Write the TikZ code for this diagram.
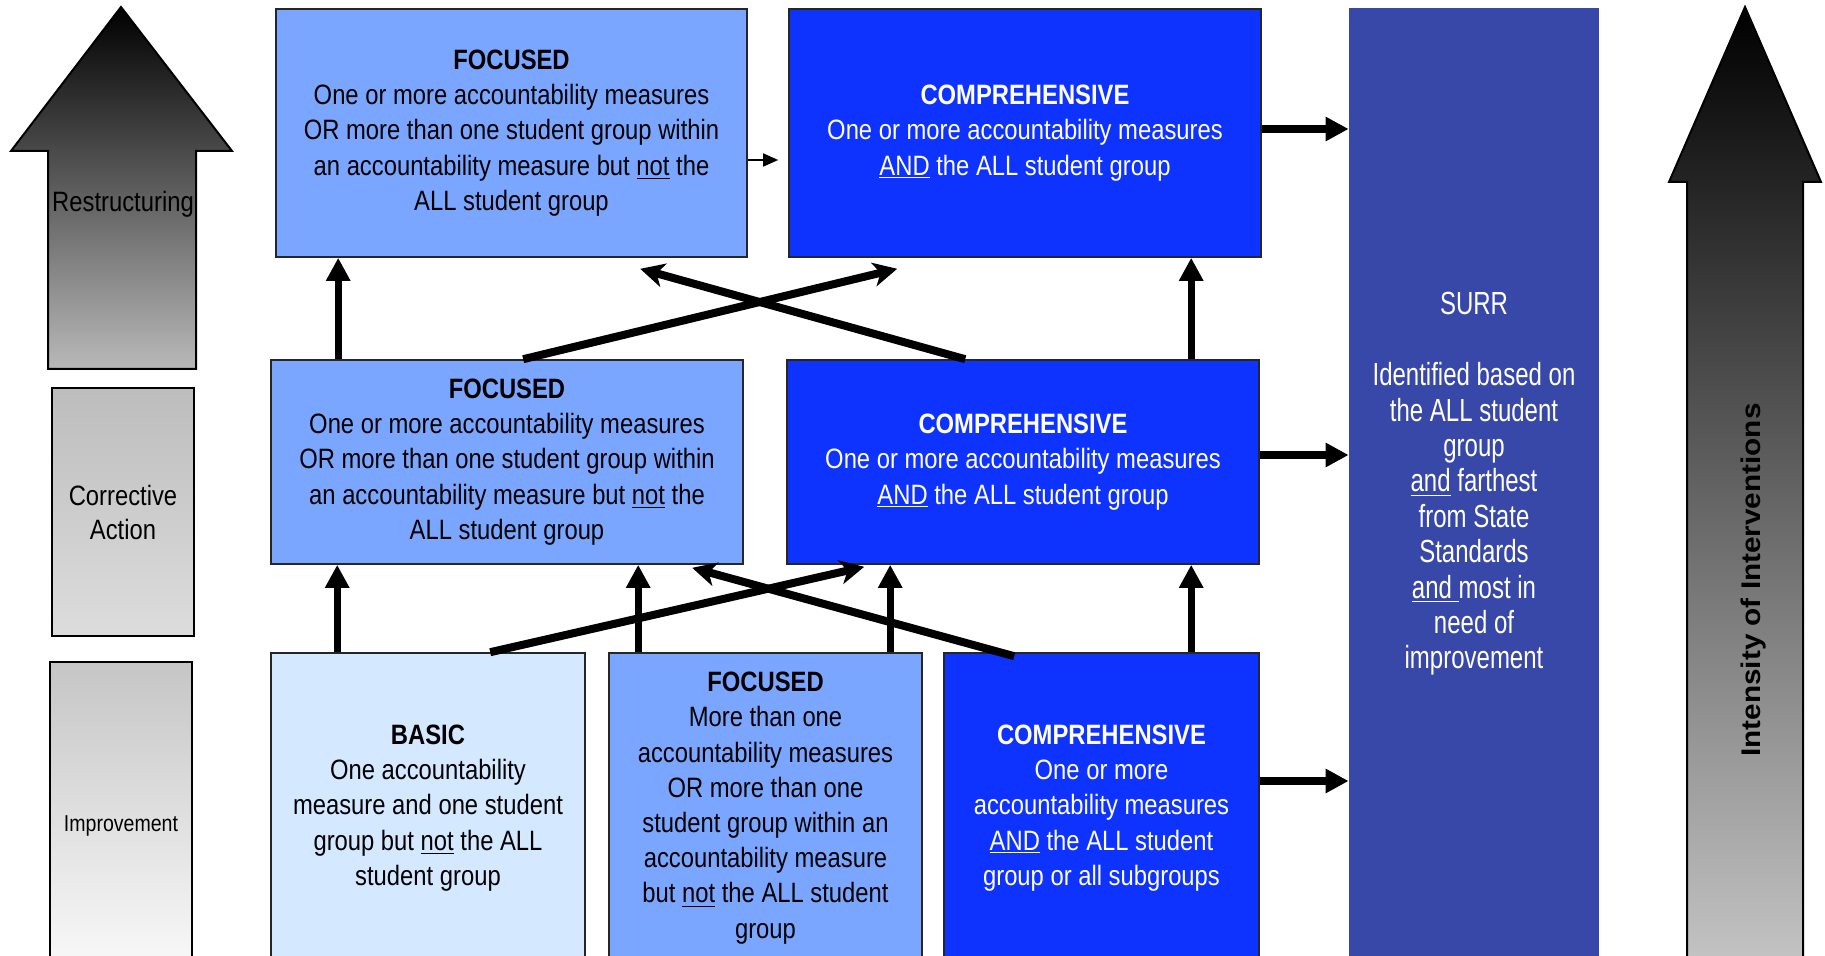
\documentclass[tikz,border=0pt]{standalone}
\usepackage{fontspec}
\usepackage{tikz}
\usepackage{xcolor}
\usetikzlibrary{arrows.meta}

\newfontfamily\boxfont[FakeStretch=0.85]{Liberation Sans}
\newfontfamily\surrfont[FakeStretch=0.75]{Liberation Sans}
\newfontfamily\longfont[FakeStretch=1.1]{Liberation Sans}

\definecolor{basicblue}{HTML}{D4E8FF}
\definecolor{focblue}{HTML}{7AA6FF}
\definecolor{compblue}{HTML}{0F33FF}
\definecolor{surrblue}{HTML}{3848A8}

\begin{document}
\begin{tikzpicture}[x=0.5pt,y=-0.5pt]
        \tikzstyle{level}=[draw=black!85,line width=0.8pt,inner sep=0pt,align=center,font=\boxfont\fontsize{14}{17.6}\selectfont]
        \tikzstyle{side}=[draw=black,line width=1pt,inner sep=0pt,align=center,font=\boxfont\fontsize{14}{17}\selectfont]
        \tikzstyle{bigarrow}=[draw,line width=3.6pt,-{Triangle[length=11.5pt,width=11.5pt]}]
        \tikzstyle{crossarrow}=[draw,line width=4pt,-{Stealth[length=12pt,width=12pt,inset=3.5pt]}]
        \tikzstyle{thinarrow}=[draw,line width=0.8pt,-{Triangle[length=7.5pt,width=6.5pt]}]
        \clip (0,0) rectangle (1825,956);
       % stages on the left
       \begin{scope}
         \shade[top color=black,bottom color=gray!55,draw=black,line width=1pt]
           (121,7) -- (232,151) -- (196,151) -- (196,369) -- (48,369) -- (48,151) -- (11,151) -- cycle;
         \node [font=\boxfont\fontsize{14}{17}\selectfont] (restr) at (123,204) {Restructuring};
         \node [side,top color=gray!52,bottom color=gray!27,minimum width=71pt,minimum height=124pt] (corr) at (123,512) {Corrective\\Action};
         \node [side,top color=gray!45,bottom color=gray!2,minimum width=71pt,minimum height=164pt,font=\boxfont\fontsize{11.5}{14}\selectfont] (impr) at (121,826) {Improvement};
        \end{scope}
       % levels
       \begin{scope}
         \node [level,fill=focblue,minimum width=235.5pt,minimum height=124pt] (tf) at (511.5,133)
           {\textbf{FOCUSED}\\One or more accountability measures\\OR more than one student group within\\an accountability measure but \underline{not} the\\ALL student group};
         \node [level,fill=compblue,text=white,minimum width=236pt,minimum height=124pt] (tc) at (1025,133)
           {\textbf{COMPREHENSIVE}\\One or more accountability measures\\\underline{AND} the ALL student group};
         \node [level,fill=focblue,minimum width=236pt,minimum height=102pt] (mf) at (507,462)
           {\textbf{FOCUSED}\\One or more accountability measures\\OR more than one student group within\\an accountability measure but \underline{not} the\\ALL student group};
         \node [level,fill=compblue,text=white,minimum width=236pt,minimum height=102pt] (mc) at (1023,462)
           {\textbf{COMPREHENSIVE}\\One or more accountability measures\\\underline{AND} the ALL student group};
         \node [level,fill=basicblue,minimum width=157pt,minimum height=155pt] (bb) at (428,808)
           {\textbf{BASIC}\\One accountability\\measure and one student\\group but \underline{not} the ALL\\student group};
         \node [level,fill=focblue,minimum width=156.5pt,minimum height=155pt] (bf) at (765.5,808)
           {\textbf{FOCUSED}\\More than one\\accountability measures\\OR more than one\\student group within an\\accountability measure\\but \underline{not} the ALL student\\group};
         \node [level,fill=compblue,text=white,minimum width=157.5pt,minimum height=155pt] (bc) at (1101.5,808)
           {\textbf{COMPREHENSIVE}\\One or more\\accountability measures\\\underline{AND} the ALL student\\group or all subgroups};
         \node [fill=surrblue,text=white,inner sep=0pt,align=center,minimum width=125pt,minimum height=476pt,
           font=\surrfont\fontsize{16}{17.7}\selectfont] (surr) at (1474,484)
           {SURR\\[17.7pt]Identified based on\\the ALL student\\group\\\underline{and} farthest\\from State\\Standards\\\underline{and\ }most in\\need of\\improvement};
        \end{scope}
       % intensity arrow on the right
       \shade[top color=black,bottom color=gray!42,draw=black,line width=1pt]
         (1745,7) -- (1821,182) -- (1803,182) -- (1803,990) -- (1687,990) -- (1687,182) -- (1669,182) -- cycle;
       \node [rotate=90,font=\longfont\bfseries\fontsize{13.5}{16}\selectfont] (intens) at (1753,580) {Intensity of Interventions};
       % connectors
       \coordinate (v1) at ([xshift=34pt]mf.north west);
       \coordinate (v2) at ([xshift=202.5pt]mc.north west);
       \coordinate (v3) at ([xshift=33.5pt]bb.north west);
       \coordinate (v4) at ([xshift=15pt]bf.north west);
       \coordinate (v5) at ([xshift=141pt]bf.north west);
       \coordinate (v6) at ([xshift=124pt]bc.north west);
       \coordinate (h1) at ([yshift=2pt]tc.east);
       \coordinate (h2) at ([yshift=3.5pt]mc.east);
       \coordinate (h3) at ([yshift=13.5pt]bc.east);
       \coordinate (t1) at ([yshift=-13.5pt]tf.east);
       \draw[thinarrow,shorten >=5pt] (t1) -- (t1 -| tc.west);
       \draw[bigarrow] (v1) -- (v1 |- tf.south);
       \draw[bigarrow] (v2) -- (v2 |- tc.south);
       \draw[bigarrow] (v3) -- (v3 |- mf.south);
       \draw[bigarrow] (v4) -- (v4 |- mf.south);
       \draw[bigarrow] (v5) -- (v5 |- mc.south);
       \draw[bigarrow] (v6) -- (v6 |- mc.south);
       \draw[bigarrow] (h1) -- (h1 -| surr.west);
       \draw[bigarrow] (h2) -- (h2 -| surr.west);
       \draw[bigarrow] (h3) -- (h3 -| surr.west);
       \draw[crossarrow] ([xshift=126.5pt]mf.north west) -- ([xshift=54.5pt,yshift=-5.5pt]tc.south west);
       \draw[crossarrow] ([xshift=89.5pt]mc.north west) -- ([xshift=182.5pt,yshift=-5.5pt]tf.south west);
       \draw[crossarrow] ([xshift=110pt]bb.north west) -- ([xshift=39pt,yshift=-1pt]mc.south west);
       \draw[crossarrow] ([xshift=35.5pt,yshift=-2pt]bc.north west) -- ([xshift=211pt,yshift=-1.5pt]mf.south west);
\end{tikzpicture}
\end{document}
